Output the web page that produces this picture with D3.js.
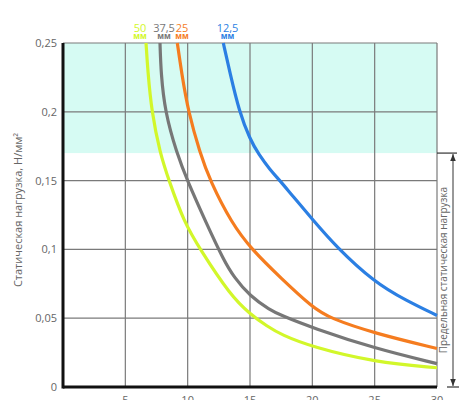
<!DOCTYPE html>
<html lang="ru">
<head>
<meta charset="UTF-8">
<title>Статическая нагрузка</title>
<script src="https://d3js.org/d3.v7.min.js"></script>
<style>
    body { margin: 0; background: #fff; }
    text { font-family: "Open Sans", sans-serif; fill: #666; }
</style>
</head>
<body>
<div id="chart"></div>
<script>
// thickness (mm) of each curve, and values
const seriesNames = ["50", "37,5", "25", "12,5"];
const seriesColors = ["#d2f72a", "#777777", "#f57c1f", "#2b7fe3"];

const green50 = [[6.66, 0.25], [6.8, 0.23], [7.11, 0.2], [7.78, 0.17], [8.5, 0.15], [9.7, 0.12], [11.0, 0.1],
    [13.4, 0.067], [15, 0.053], [16.4, 0.044], [17.5, 0.038], [20, 0.029], [25, 0.018], [30, 0.014]];
const gray375 = [[7.78, 0.25], [7.86, 0.228], [8.18, 0.2], [9.12, 0.17], [9.97, 0.15], [11.5, 0.119],
    [12.9, 0.092], [13.7, 0.08], [15, 0.066], [16.6, 0.056], [17.5, 0.052], [20, 0.043], [25, 0.028], [30, 0.017]];
const orange25 = [[9.17, 0.25], [9.52, 0.228], [10.05, 0.2], [10.99, 0.17], [11.79, 0.15], [13.53, 0.119],
    [15.13, 0.1], [17.5, 0.079], [20, 0.058], [21.4, 0.05], [25, 0.039], [30, 0.028]];
const blue125 = [[12.86, 0.25], [13.4, 0.228], [14.14, 0.2], [15.0, 0.18], [15.7, 0.169], [16.6, 0.158],
    [17.4, 0.15], [18.45, 0.1385], [20, 0.122], [21.9, 0.102], [25, 0.076], [27.5, 0.063], [30, 0.052]];
const seriesData = [green50, gray375, orange25, blue125];

const xTicks = [5, 10, 15, 20, 25, 30];
const yTicks = [0, 0.05, 0.1, 0.15, 0.2, 0.25];
const limitLoad = 0.17;

const width = 470, height = 400;
const margin = {left: 63, right: 33, top: 43, bottom: 13};

const svg = d3.select("#chart").append("svg")
    .attr("width", width)
    .attr("height", height);

const x = d3.scaleLinear().domain([0, 30]).range([margin.left, width - margin.right]);
const y = d3.scaleLinear().domain([0, 0.25]).range([height - margin.bottom, margin.top]);

// zone above the limit load
svg.append("rect")
    .attr("x", x(0)).attr("y", y(0.25))
    .attr("width", x(30) - x(0))
    .attr("height", y(limitLoad) - y(0.25))
    .attr("fill", "#d6fbf3");

// grid
svg.append("g")
    .selectAll("line")
    .data(xTicks)
    .join("line")
    .attr("x1", d => x(d)).attr("x2", d => x(d))
    .attr("y1", y(0)).attr("y2", y(0.25))
    .attr("stroke", "#7a7a7a").attr("stroke-width", 1.2);

svg.append("g")
    .selectAll("line")
    .data(yTicks.filter(d => d > 0))
    .join("line")
    .attr("x1", x(0)).attr("x2", x(30))
    .attr("y1", d => y(d)).attr("y2", d => y(d))
    .attr("stroke", "#7a7a7a").attr("stroke-width", 1.2);

// curves
const line = d3.line()
    .x(d => x(d[0]))
    .y(d => y(d[1]))
    .curve(d3.curveBasis);

svg.append("g")
    .selectAll("path")
    .data(seriesData)
    .join("path")
    .attr("d", line)
    .attr("fill", "none")
    .attr("stroke", (d, i) => seriesColors[i])
    .attr("stroke-width", 3.2);

// axes
svg.append("line")
    .attr("x1", x(0)).attr("x2", x(0))
    .attr("y1", y(0.25)).attr("y2", y(0) + 1.5)
    .attr("stroke", "#111").attr("stroke-width", 3);
svg.append("line")
    .attr("x1", x(0)).attr("x2", x(30))
    .attr("y1", y(0)).attr("y2", y(0))
    .attr("stroke", "#111").attr("stroke-width", 3);

const fmt = d => String(d).replace(".", ",");

svg.append("g")
    .selectAll("text")
    .data(yTicks)
    .join("text")
    .attr("x", x(0) - 6)
    .attr("y", d => y(d) + 4)
    .attr("text-anchor", "end")
    .attr("font-size", 11)
    .text(fmt);

svg.append("g")
    .selectAll("text")
    .data(xTicks)
    .join("text")
    .attr("x", d => x(d))
    .attr("y", y(0) + 17)
    .attr("text-anchor", "middle")
    .attr("font-size", 11)
    .text(fmt);

svg.append("text")
    .attr("transform", `translate(22, 210) rotate(-90)`)
    .attr("text-anchor", "middle")
    .attr("font-size", 11)
    .text("Статическая нагрузка, Н/мм²");

// curve labels on top: number with "мм" right under it
const labelX = [140, 164, 182, 227.5];
const labels = svg.append("g")
    .selectAll("text")
    .data(seriesNames)
    .join("text")
    .attr("text-anchor", "middle")
    .style("fill", (d, i) => seriesColors[i]);
labels.append("tspan")
    .attr("x", (d, i) => labelX[i])
    .attr("y", 31.5)
    .attr("font-size", 11)
    .text(d => d);
labels.append("tspan")
    .attr("x", (d, i) => labelX[i])
    .attr("y", 39)
    .attr("font-size", 8)
    .attr("font-weight", "bold")
    .text("мм");

// limit load bracket on the right
const bx = 453;
svg.append("defs").append("marker")
    .attr("id", "arrow")
    .attr("viewBox", "0 0 10 10")
    .attr("refX", 10).attr("refY", 5)
    .attr("markerWidth", 7).attr("markerHeight", 7)
    .attr("orient", "auto-start-reverse")
    .append("path")
    .attr("d", "M0,1 L10,5 L0,9 Z")
    .attr("fill", "#333");

svg.append("line")
    .attr("x1", x(30)).attr("x2", bx + 4)
    .attr("y1", y(limitLoad)).attr("y2", y(limitLoad))
    .attr("stroke", "#333").attr("stroke-width", 1.2);
svg.append("line")
    .attr("x1", bx - 6).attr("x2", bx + 6)
    .attr("y1", y(0)).attr("y2", y(0))
    .attr("stroke", "#333").attr("stroke-width", 1.2);
svg.append("line")
    .attr("x1", bx).attr("x2", bx)
    .attr("y1", y(limitLoad) + 1).attr("y2", y(0) - 1)
    .attr("stroke", "#333").attr("stroke-width", 1)
    .attr("marker-start", "url(#arrow)")
    .attr("marker-end", "url(#arrow)");

svg.append("text")
    .attr("transform", `translate(446.5, ${(y(limitLoad) + y(0)) / 2}) rotate(-90)`)
    .attr("text-anchor", "middle")
    .attr("font-size", 10)
    .text("Предельная статическая нагрузка");
</script>
</body>
</html>
